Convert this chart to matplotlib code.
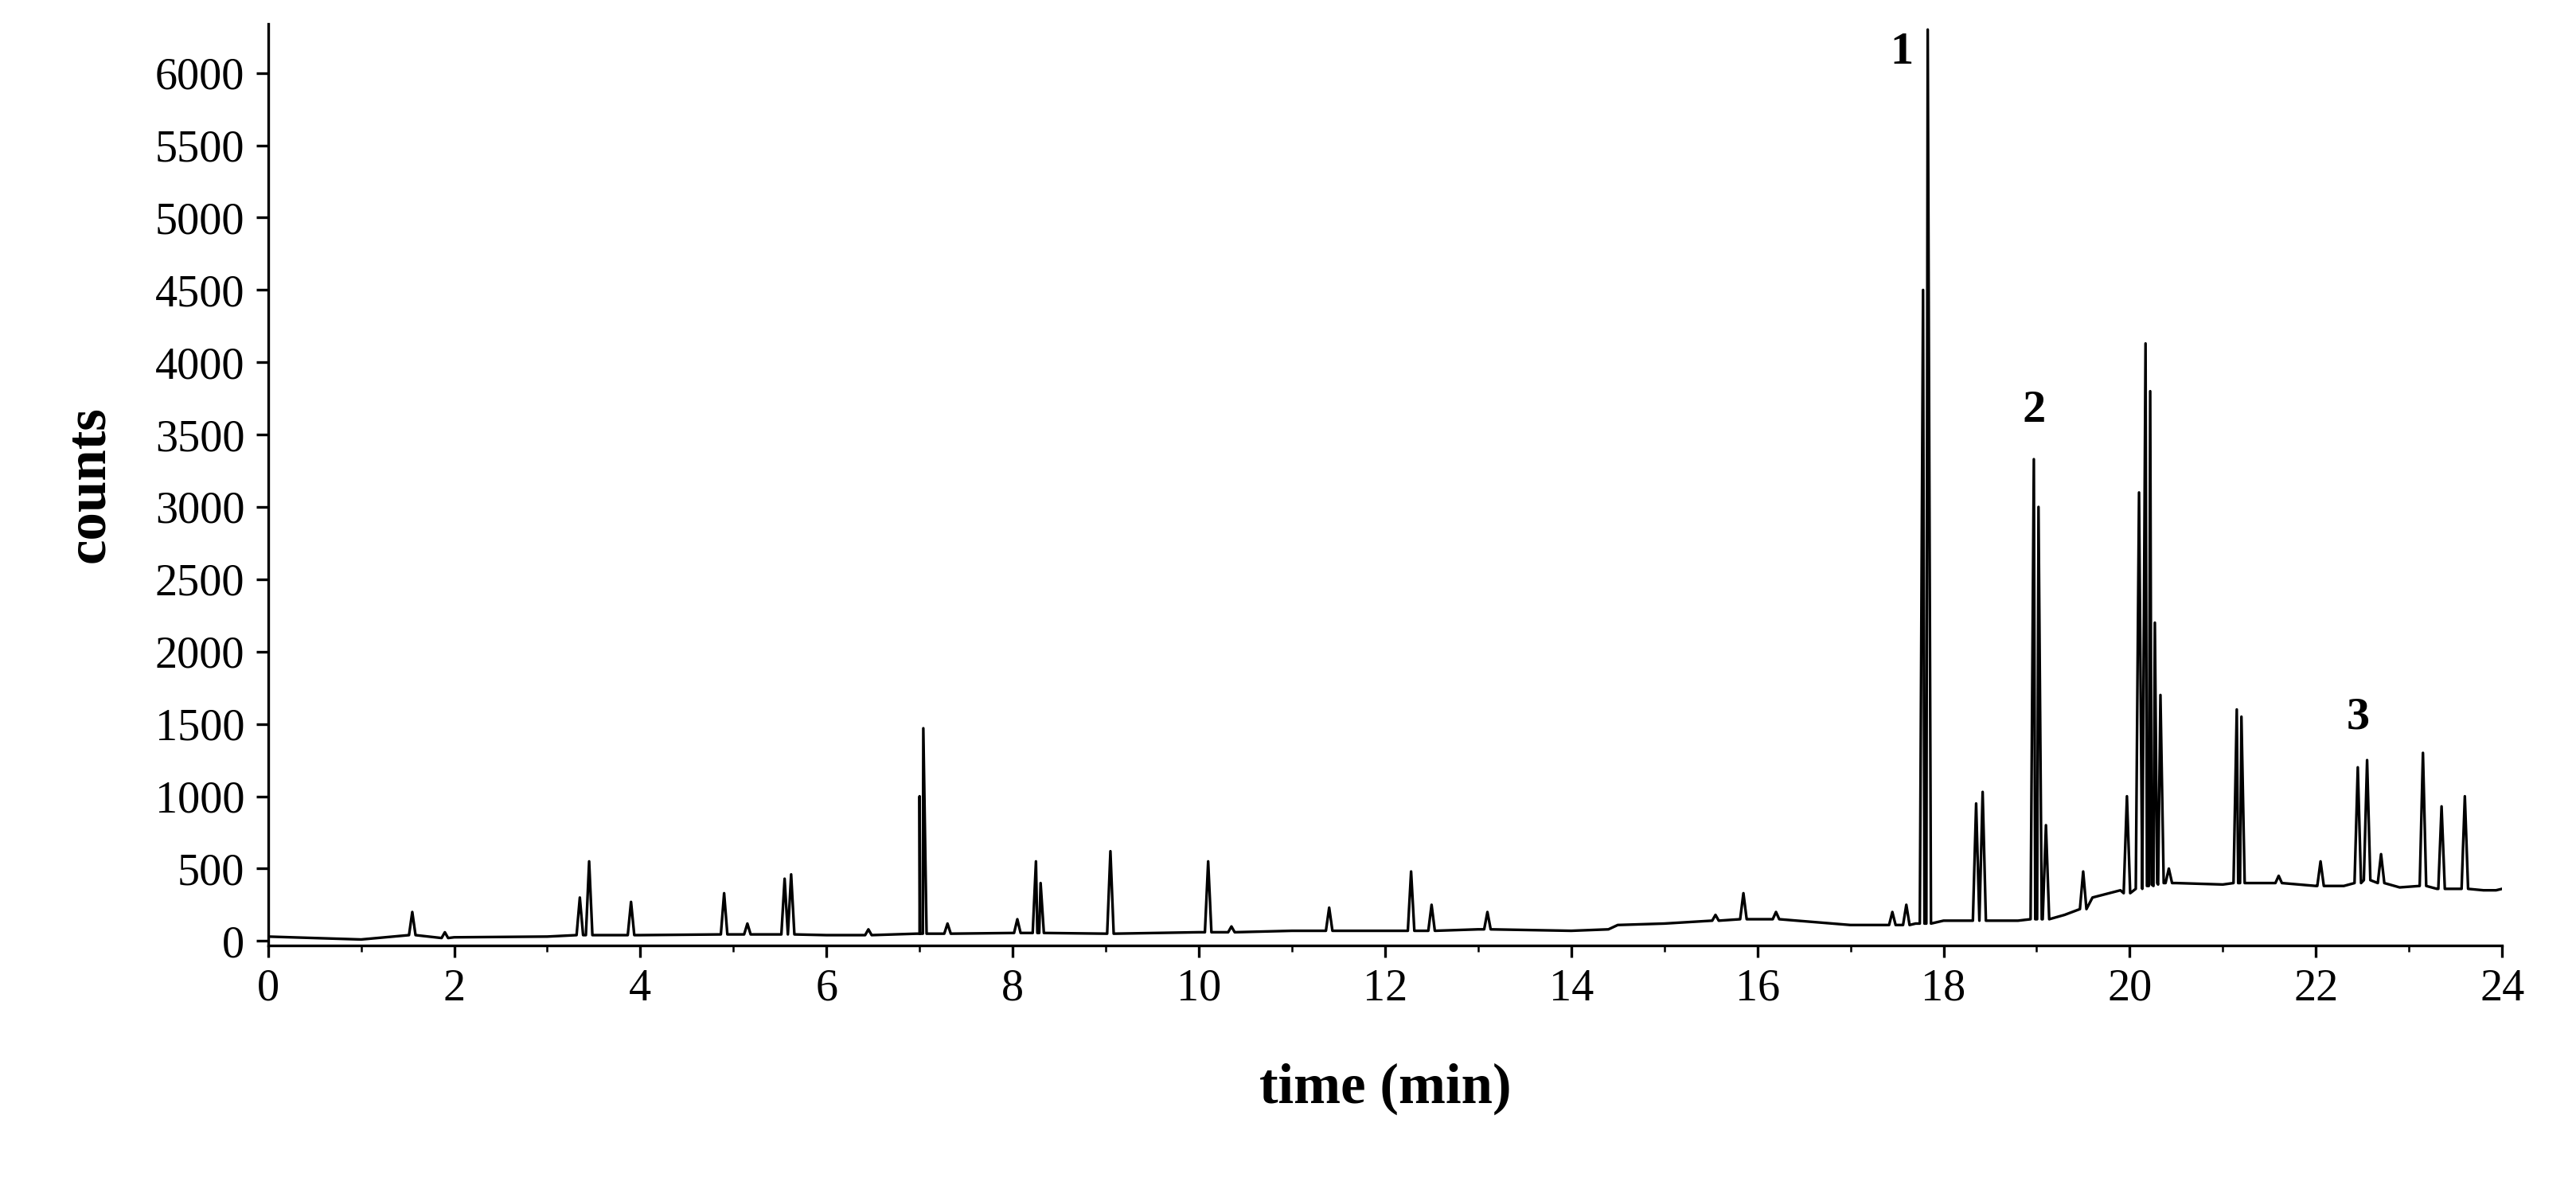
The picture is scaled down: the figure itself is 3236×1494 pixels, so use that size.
import numpy as np
import matplotlib.pyplot as plt

plt.rcParams['font.family'] = ['Liberation Serif', 'DejaVu Serif']

# baseline points (time, counts)
base_t = [0.0, 0.5, 1.0, 2.0, 3.0, 4.0, 5.0, 6.0, 7.0, 8.0, 9.0, 10.0, 11.0, 12.0, 13.0,
          14.0, 14.4, 14.5, 15.0, 16.0, 17.0, 17.7, 18.0, 18.8, 19.3, 19.6, 19.9, 20.5,
          21.0, 21.5, 22.0, 22.3, 22.9, 23.3, 23.8, 24.0]
base_y = [30, 20, 10, 25, 30, 40, 45, 40, 50, 55, 50, 60, 70, 70, 80,
          70, 80, 110, 120, 150, 110, 120, 140, 140, 180, 300, 350, 400,
          390, 400, 380, 380, 370, 360, 350, 360]

# peaks: apex time, apex counts, foot counts
peak_t = [1.55, 1.9, 3.35, 3.45, 3.9, 4.9, 5.15, 5.55, 5.62, 6.45, 7.0, 7.04, 7.3, 8.05,
          8.25, 8.3, 9.05, 10.1, 10.35, 11.4, 12.28, 12.5, 13.1, 15.55, 15.85, 16.2,
          17.45, 17.6, 17.78, 17.83, 18.35, 18.42, 18.97, 19.02, 19.1, 19.5, 19.97,
          20.1, 20.17, 20.22, 20.27, 20.33, 20.42, 21.15, 21.2, 21.6, 22.05, 22.45,
          22.55, 22.7, 23.15, 23.35, 23.6, 23.9]
peak_y = [200, 60, 300, 550, 270, 330, 120, 430, 460, 80, 1000, 1470, 120, 150,
          550, 400, 620, 550, 100, 230, 480, 250, 200, 180, 330, 200,
          200, 250, 4500, 6300, 950, 1030, 3330, 3000, 800, 480, 1000,
          3100, 4130, 3800, 2200, 1700, 500, 1600, 1550, 450, 550, 1200,
          1250, 600, 1300, 930, 1000, 350]
foot_y = [40, 20, 40, 40, 40, 45, 45, 45, 45, 40, 50, 50, 50, 55,
          55, 55, 50, 60, 60, 70, 70, 70, 80, 140, 150, 150,
          110, 110, 120, 120, 140, 140, 150, 150, 150, 220, 330,
          360, 380, 380, 390, 400, 400, 400, 400, 400, 380, 400,
          420, 400, 380, 360, 360, 350]

pts = list(zip(base_t, base_y))
for t, h, f in zip(peak_t, peak_y, foot_y):
    pts += [(t - 0.035, f), (t, h), (t + 0.035, f)]
pts.sort()
x = [p[0] for p in pts]
y = [p[1] for p in pts]

fig = plt.figure(figsize=(10.79, 4.98), dpi=300)
ax = fig.add_axes([0.104, 0.205, 0.867, 0.775])
ax.plot(x, y, color='black', lw=0.8)

ax.set_xlim(0, 24)
ax.set_ylim(-30, 6340)
ax.set_xticks(np.arange(0, 25, 2))
ax.set_xticks(np.arange(0, 25, 1), minor=True)
ax.set_yticks(np.arange(0, 6001, 500))
ax.spines['top'].set_visible(False)
ax.spines['right'].set_visible(False)
ax.tick_params(labelsize=13.5, direction='out')
ax.set_xlabel('time (min)', fontsize=17, fontweight='bold', labelpad=16)
ax.set_ylabel('counts', fontsize=17, fontweight='bold', labelpad=12)

for lbl, t, h in [('1', 17.55, 6000), ('2', 18.97, 3520), ('3', 22.45, 1400)]:
    ax.text(t, h, lbl, fontsize=14, fontweight='bold', ha='center', va='bottom')

fig.savefig('out.png')
